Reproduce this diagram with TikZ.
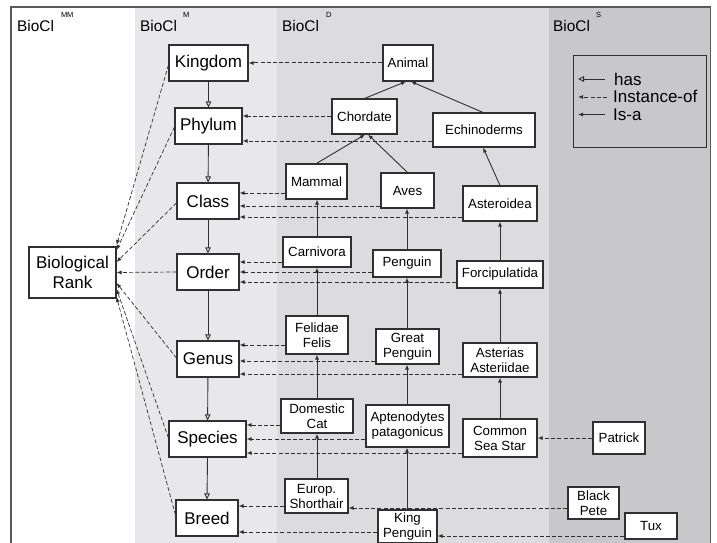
\documentclass[tikz,border=0pt]{standalone}
\usepackage{fontspec}
\setmainfont{Liberation Sans}
\usetikzlibrary{arrows.meta,calc}
\definecolor{colM}{HTML}{E8E8EA}
\definecolor{colD}{HTML}{DCDCDE}
\definecolor{colS}{HTML}{C8C8CA}
\definecolor{linec}{HTML}{303030}
\definecolor{framec}{HTML}{5A5A5A}
\begin{document}
\begin{tikzpicture}[x=1pt,y=-1pt,
 box/.style={draw=linec, fill=white, line width=1.1pt, inner sep=0pt, align=center},
 bigbox/.style={box, font=\fontsize{17}{20}\selectfont},
 smallbox/.style={box, font=\fontsize{13.3}{15}\selectfont},
 hasarrow/.style={draw=linec, line width=0.9pt, -{Triangle[open, length=6pt, width=5.5pt]}},
 isa/.style={draw=linec, line width=0.9pt, -{Latex[length=5pt,width=4pt]}},
 inst/.style={draw=linec, line width=1pt, dash pattern=on 4pt off 2.2pt, -{Latex[length=5pt,width=4pt]}},
 instbr/.style={inst, line width=0.7pt},
 header/.style={anchor=base west, inner sep=0pt, font=\fontsize{15.4}{18}\selectfont},
 legtext/.style={anchor=base west, inner sep=0pt, font=\fontsize{17}{20}\selectfont}
]
\useasboundingbox (0,0) rectangle (717,543);
% column backgrounds
\fill[colM] (135,7) rectangle (277,560);
\fill[colD] (277,7) rectangle (549,560);
\fill[colS] (549,7) rectangle (710.5,560);
% frame
\draw[framec, line width=1.3pt] (11,560) -- (11,7) -- (710.5,7) -- (710.5,560);
% headers
\node[header] (hMM) at (17,31.5) {BioCl\hspace{7pt}\raisebox{13.5pt}{\fontsize{7.5}{8}\selectfont MM}};
\node[header] (hM) at (140,31.5) {BioCl\hspace{6pt}\raisebox{13.5pt}{\fontsize{7.5}{8}\selectfont M}};
\node[header] (hD) at (282,31.5) {BioCl\hspace{7pt}\raisebox{13.5pt}{\fontsize{7.5}{8}\selectfont D}};
\node[header] (hS) at (553,31.5) {BioCl\hspace{6pt}\raisebox{13.5pt}{\fontsize{7.5}{8}\selectfont S}};
% legend
\draw[linec, line width=1pt, fill=colS] (573,56) rectangle (706.5,147);
\node[legtext] (lhas) at (614,85) {has};
\node[legtext] (linst) at (613,102.5) {Instance-of};
\node[legtext] (lisa) at (613,120) {Is-a};
\coordinate (lhasA) at (605,79); \coordinate (lhasB) at (578,79);
\coordinate (linstA) at (607,97); \coordinate (linstB) at (578,97);
\coordinate (lisaA) at (605,114.5); \coordinate (lisaB) at (578,114.5);
\draw[hasarrow] (lhasA) -- (lhasB);
\draw[inst] (linstA) -- (linstB);
\draw[isa] (lisaA) -- (lisaB);
% meta-meta
\node[bigbox, minimum width=87pt, minimum height=51pt] (br) at (72.5,272.5) {Biological\\Rank};
% meta level
\node[bigbox, minimum width=79pt, minimum height=36pt] (kingdom) at (208.5,63) {Kingdom};
\node[bigbox, minimum width=67pt, minimum height=36pt] (phylum) at (208.5,126) {Phylum};
\node[bigbox, minimum width=62pt, minimum height=36pt] (class) at (208,201) {Class};
\node[bigbox, minimum width=62pt, minimum height=36pt] (order) at (208,272) {Order};
\node[bigbox, minimum width=62pt, minimum height=36pt] (genus) at (208,359) {Genus};
\node[bigbox, minimum width=77pt, minimum height=36pt] (species) at (207.5,439) {Species};
\node[bigbox, minimum width=62pt, minimum height=36pt] (breed) at (207,518) {Breed};
% domain level
\node[smallbox, minimum width=50pt, minimum height=36pt] (animal) at (408,63) {Animal};
\node[smallbox, minimum width=65pt, minimum height=35pt] (chordate) at (364.5,116.5) {Chordate};
\node[smallbox, minimum width=102pt, minimum height=34pt] (echino) at (484,130) {Echinoderms};
\node[smallbox, minimum width=61pt, minimum height=35pt] (mammal) at (316.5,181.5) {Mammal};
\node[smallbox, minimum width=53pt, minimum height=35pt] (aves) at (407.5,190.5) {Aves};
\node[smallbox, minimum width=74pt, minimum height=35pt] (asteroidea) at (500,203.5) {Asteroidea};
\node[smallbox, minimum width=68pt, minimum height=30pt] (carnivora) at (317,252) {Carnivora};
\node[smallbox, minimum width=68pt, minimum height=27pt] (penguin) at (407,263.5) {Penguin};
\node[smallbox, minimum width=86pt, minimum height=27pt] (forcip) at (500,274.5) {Forcipulatida};
\node[smallbox, minimum width=62pt, minimum height=38pt] (felidae) at (317,335) {Felidae\\Felis};
\node[smallbox, minimum width=63pt, minimum height=35pt] (greatp) at (407.5,346.5) {Great\\Penguin};
\node[smallbox, minimum width=74pt, minimum height=34pt] (asterias) at (500,360) {Asterias\\Asteriidae};
\node[smallbox, minimum width=72pt, minimum height=34pt] (domcat) at (317,416) {Domestic\\Cat};
\node[smallbox, minimum width=83pt, minimum height=42pt] (apteno) at (407.5,426) {Aptenodytes\\patagonicus};
\node[smallbox, minimum width=74pt, minimum height=38pt] (seastar) at (500,438) {Common\\Sea Star};
\node[smallbox, minimum width=63pt, minimum height=34pt] (europ) at (316.5,496) {Europ.\\Shorthair};
\node[smallbox, minimum width=59pt, minimum height=33pt] (kingp) at (407.5,526.5) {King\\Penguin};
% system level
\node[smallbox, minimum width=52pt, minimum height=32pt] (patrick) at (619,438) {Patrick};
\node[smallbox, minimum width=51pt, minimum height=32pt] (blackpete) at (593.5,503) {Black\\Pete};
\node[smallbox, minimum width=52pt, minimum height=26pt] (tux) at (651,526) {Tux};
% has
\draw[hasarrow] (kingdom) -- (phylum);
\draw[hasarrow] (phylum) -- (class);
\draw[hasarrow] (class) -- (order);
\draw[hasarrow] (order) -- (genus);
\draw[hasarrow] (genus) -- (species);
\draw[hasarrow] (species.south) -- (breed.north);
% instance-of to Biological Rank
\draw[instbr] (kingdom.west |- 0,65) -- (br.east |- 0,245);
\draw[instbr] (phylum.west |- 0,127) -- (br.east |- 0,250);
\draw[instbr] (class.west |- 0,203) -- (br.east |- 0,262);
\draw[instbr] (order.west) -- (br.east);
\draw[instbr] (genus.west |- 0,358) -- (br.east |- 0,283);
\draw[instbr] (species.west |- 0,438) -- (br.east |- 0,289);
\draw[instbr] (breed.west |- 0,515) -- (br.east |- 0,297);
% instance-of domain -> meta
\draw[inst] (animal.west) -- (kingdom.east |- 0,63);
\draw[inst] (chordate.west |- 0,116) -- (phylum.east |- 0,116);
\draw[inst] (echino.west |- 0,141) -- (phylum.east |- 0,141);
\draw[inst] (mammal.west |- 0,193) -- (class.east |- 0,193);
\draw[inst] (aves.west |- 0,206) -- (class.east |- 0,206);
\draw[inst] (asteroidea.west |- 0,217) -- (class.east |- 0,217);
\draw[inst] (carnivora.west |- 0,262) -- (order.east |- 0,262);
\draw[inst] (penguin.west |- 0,272) -- (order.east |- 0,272);
\draw[inst] (forcip.west |- 0,282) -- (order.east |- 0,282);
\draw[inst] (felidae.west |- 0,345) -- (genus.east |- 0,345);
\draw[inst] (greatp.west |- 0,361) -- (genus.east |- 0,361);
\draw[inst] (asterias.west |- 0,374) -- (genus.east |- 0,374);
\draw[inst] (domcat.west |- 0,425) -- (species.east |- 0,425);
\draw[inst] (apteno.west |- 0,439) -- (species.east |- 0,439);
\draw[inst] (seastar.west |- 0,453) -- (species.east |- 0,453);
\draw[inst] (europ.west |- 0,506) -- (breed.east |- 0,506);
\draw[inst] (kingp.west |- 0,532) -- (breed.east |- 0,532);
% instance-of system -> domain
\draw[inst] (patrick.west) -- (seastar.east |- 0,438);
\draw[inst] (blackpete.west |- 0,508) -- (europ.east |- 0,508);
\draw[inst] (tux.west |- 0,536) -- (kingp.east |- 0,536);
% is-a
\draw[isa] (chordate.north) -- (animal.south -| 406,0);
\draw[isa] (echino.north -| 483,0) -- (animal.south -| 411,0);
\draw[isa] (mammal.north) -- (chordate.south -| 365,0);
\draw[isa] (aves.north) -- (chordate.south -| 368,0);
\draw[isa] (asteroidea.north) -- (echino.south -| 483,0);
\draw[isa] (carnivora.north) -- (mammal.south -| 317,0);
\draw[isa] (penguin.north) -- (aves.south -| 407,0);
\draw[isa] (forcip.north) -- (asteroidea.south);
\draw[isa] (felidae.north) -- (carnivora.south);
\draw[isa] (greatp.north -| 407,0) -- (penguin.south -| 407,0);
\draw[isa] (asterias.north) -- (forcip.south);
\draw[isa] (domcat.north) -- (felidae.south);
\draw[isa] (apteno.north -| 407,0) -- (greatp.south -| 407,0);
\draw[isa] (seastar.north) -- (asterias.south);
\draw[isa] (europ.north -| 317,0) -- (domcat.south -| 317,0);
\draw[isa] (kingp.north -| 407,0) -- (apteno.south -| 407,0);
\end{tikzpicture}
\end{document}
